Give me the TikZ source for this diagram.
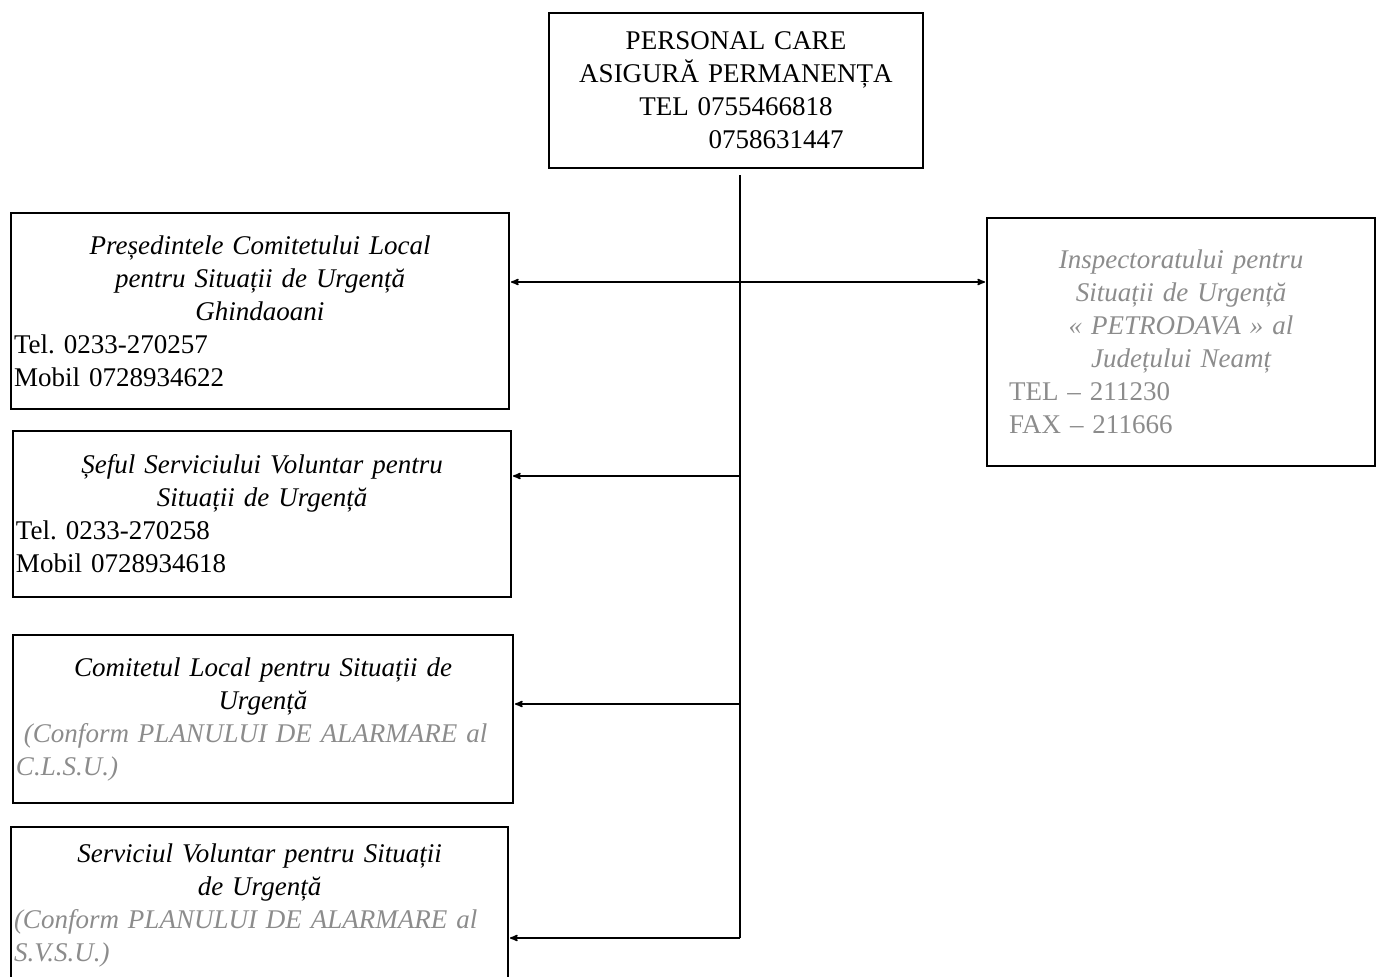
\documentclass[tikz,border=0pt]{standalone}
\usepackage{fontspec}
\setmainfont{Liberation Serif}
\usepackage{tikz}
\usetikzlibrary{arrows, positioning}
\newcommand{\pale}{\color{black!45}}
\frenchspacing

\begin{document}
\begin{tikzpicture}[x=1pt, y=-1pt, >=stealth', semithick]
  \tikzstyle{box}=[draw, line width=2pt, anchor=north west, inner xsep=3pt, inner ysep=0pt,
                   align=left, font=\fontsize{27}{33}\selectfont]
  \tikzstyle{link}=[->, line width=1.6pt, shorten >=1pt]

  \useasboundingbox (0,0) rectangle (1376,977);

  \node[box, align=center, text width=368pt, minimum height=155pt] (perm) at (548,12)
        {PERSONAL CARE\\ ASIGURĂ PERMANENȚA\\ TEL 0755466818\\ \hspace*{80pt}0758631447};
  \node[box, text width=492pt, minimum height=196pt]                (pres) at (10,212)
        {{\centering\itshape Președintele Comitetului Local\\ pentru Situații de Urgență\\ Ghindaoani\par}
         Tel. 0233-270257\\ Mobil 0728934622};
  \node[box, text width=492pt, minimum height=166pt] (sef) [below right=20pt and 2pt of pres.south west]
        {{\centering\itshape Șeful Serviciului Voluntar pentru\\ Situații de Urgență\par}
         Tel. 0233-270258\\ Mobil 0728934618};
  \node[box, text width=494pt, minimum height=168pt] (clsu) [below right=36pt and 0pt of sef.south west]
        {{\centering\itshape Comitetul Local pentru Situații de\\ Urgență\par}
         {\itshape\pale\hspace*{8pt}(Conform PLANULUI DE ALARMARE al\\ C.L.S.U.)}};
  \node[box, text width=491pt, minimum height=157pt] (svsu) [below right=22pt and -2pt of clsu.south west]
        {{\centering\itshape Serviciul Voluntar pentru Situații\\ de Urgență\par}
         {\itshape\pale (Conform PLANULUI DE ALARMARE al\\ S.V.S.U.)}};
  \node[box, text width=344pt, inner xsep=22pt, minimum height=248pt] (isu) at (986,217)
        {\pale{\centering\itshape Inspectoratului pentru\\ Situații de Urgență\\ «~PETRODAVA~» al\\ Județului Neamț\par}
         TEL -- 211230\\ FAX -- 211666};

  \coordinate (top) at (740,175);
  \coordinate (bot) at (740,938);
  \coordinate (j1)  at (740,282);
  \coordinate (j2)  at (740,476);
  \coordinate (j3)  at (740,704);

  \draw[line width=1.8pt] (top) -- (bot);
  \draw[link] (j1)  -- (j1 -| pres.east);
  \draw[link] (j1)  -- (j1 -| isu.west);
  \draw[link] (j2)  -- (j2 -| sef.east);
  \draw[link] (j3)  -- (j3 -| clsu.east);
  \draw[link] (bot) -- (bot -| svsu.east);
\end{tikzpicture}
\end{document}
